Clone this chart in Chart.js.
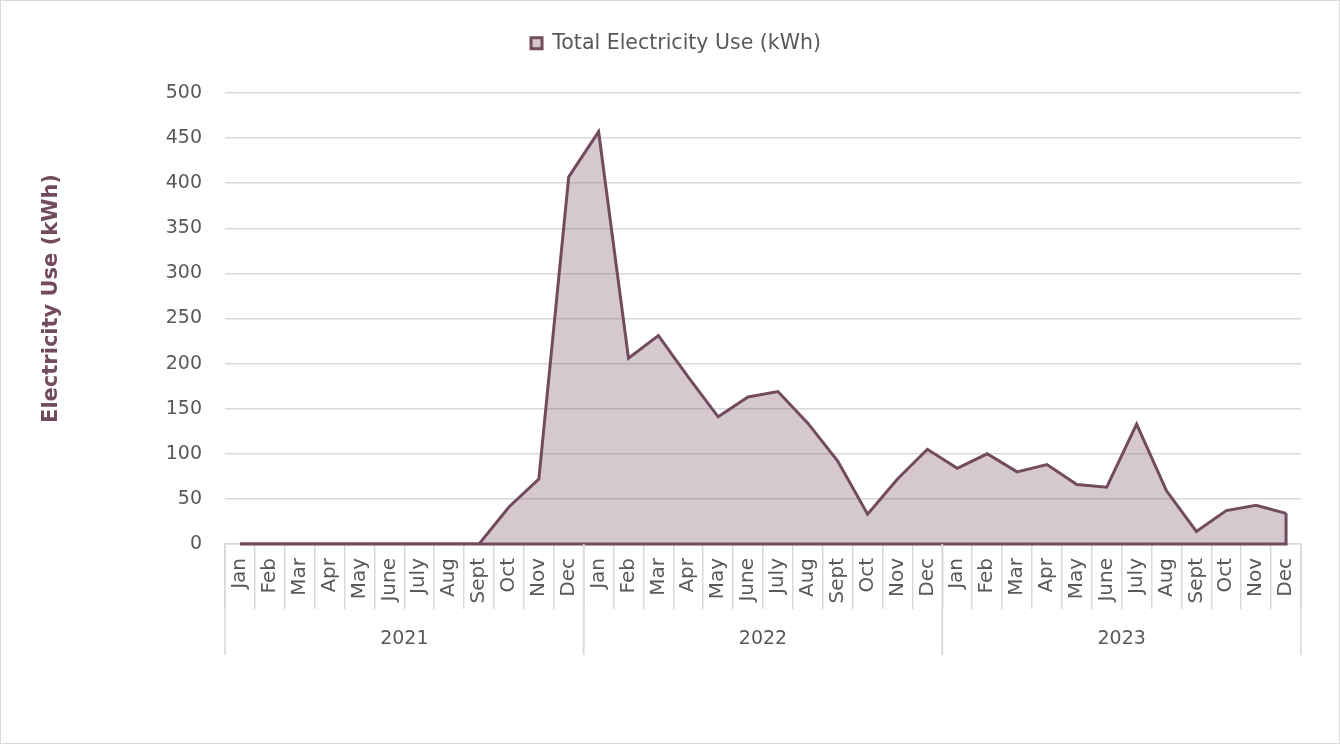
<!DOCTYPE html>
<html>
<head>
<meta charset="utf-8">
<script src="https://cdn.jsdelivr.net/npm/chart.js@4.4.1/dist/chart.umd.min.js"></script>
<style>
    html, body { margin: 0; padding: 0; background: #ffffff; }
    .frame { width: 1340px; height: 744px; box-sizing: border-box; border: 1px solid #d9d9d9; position: relative; }
</style>
</head>
<body>
<div class="frame"><canvas id="useChart"></canvas></div>
<script>
// data
const months = ['Jan', 'Feb', 'Mar', 'Apr', 'May', 'June', 'July', 'Aug', 'Sept', 'Oct', 'Nov', 'Dec'];
const years = ['2021', '2022', '2023'];
const use2021 = [0, 0, 0, 0, 0, 0, 0, 0, 0, 41, 72, 407];
const use2022 = [457, 206, 231, 185, 141, 163, 169, 134, 92, 33, 72, 105];
const use2023 = [84, 100, 80, 88, 66, 63, 133, 59, 14, 37, 43, 34];
const yMin = 0, yMax = 500, yStep = 50;

const LINE = '#734b5e';
const FILL = 'rgba(116,75,94,0.3)';
const GRID = '#d9d9d9';
const TEXT = '#595959';
const FONT = 'DejaVu Sans';

Chart.defaults.font.family = FONT;
Chart.defaults.color = TEXT;

const labels = years.flatMap(() => months);
const values = [...use2021, ...use2022, ...use2023];

// Excel draws the full outline of the area, including the drop at the end
const areaOutline = {
    id: 'areaOutline',
    afterDatasetsDraw(chart) {
        const pts = chart.getDatasetMeta(0).data;
        if (!pts.length) return;
        const base = chart.scales.y.getPixelForValue(0);
        const last = pts[pts.length - 1];
        const ctx = chart.ctx;
        ctx.save();
        ctx.strokeStyle = LINE;
        ctx.lineWidth = 3;
        ctx.beginPath();
        ctx.moveTo(last.x, last.y);
        ctx.lineTo(last.x, base);
        ctx.lineTo(pts[0].x, base);
        ctx.stroke();
        ctx.restore();
    }
};

// second level of the category axis: year groups
const yearGroups = {
    id: 'yearGroups',
    afterDraw(chart) {
        const x = chart.scales.x;
        const ctx = chart.ctx;
        const half = (x.getPixelForValue(1) - x.getPixelForValue(0)) / 2;
        ctx.save();
        ctx.strokeStyle = GRID;
        ctx.lineWidth = 1.5;
        ctx.fillStyle = TEXT;
        ctx.font = '19px "' + FONT + '"';
        ctx.textAlign = 'center';
        ctx.textBaseline = 'middle';
        years.forEach((yr, i) => {
            const a = x.getPixelForValue(i * months.length) - half;
            const b = x.getPixelForValue(i * months.length + months.length - 1) + half;
            [a, b].forEach(px => {
                ctx.beginPath();
                ctx.moveTo(px, x.top);
                ctx.lineTo(px, x.bottom);
                ctx.stroke();
            });
            ctx.fillText(yr, (a + b) / 2, x.bottom - 16);
        });
        ctx.restore();
    }
};

// y axis title, sitting a little above the plot's middle like the original
const yTitle = {
    id: 'yTitle',
    afterDraw(chart) {
        const area = chart.chartArea;
        const ctx = chart.ctx;
        ctx.save();
        ctx.translate(51, (area.top + area.bottom) / 2 - 20);
        ctx.rotate(-Math.PI / 2);
        ctx.fillStyle = LINE;
        ctx.font = 'bold 21px "' + FONT + '"';
        ctx.textAlign = 'center';
        ctx.textBaseline = 'middle';
        ctx.fillText('Electricity Use (kWh)', 0, 0);
        ctx.restore();
    }
};

// keep a fixed band for the legend above the plot
const legendBand = {
    id: 'legendBand',
    beforeLayout(chart) {
        const lg = chart.legend;
        if (lg && !lg._banded) {
            const fit = lg.fit;
            lg.fit = function () { fit.call(this); this.height = 70; };
            lg._banded = true;
        }
    }
};

new Chart(document.getElementById('useChart'), {
    type: 'line',
    data: {
        labels,
        datasets: [{
            label: 'Total Electricity Use (kWh)',
            data: values,
            borderColor: LINE,
            backgroundColor: FILL,
            borderWidth: 3,
            fill: 'origin',
            tension: 0,
            pointRadius: 0,
            pointHoverRadius: 0
        }]
    },
    options: {
        responsive: true,
        maintainAspectRatio: false,
        animation: false,
        layout: { padding: { top: 22, left: 50, right: 38, bottom: 88 } },
        plugins: {
            legend: {
                position: 'top',
                labels: {
                    boxWidth: 11,
                    boxHeight: 11,
                    padding: 10,
                    color: TEXT,
                    font: { size: 20.5 }
                }
            },
            tooltip: { enabled: false }
        },
        scales: {
            x: {
                offset: true,
                afterFit: s => { s.height = 111; },
                grid: {
                    offset: true,
                    drawOnChartArea: false,
                    drawTicks: true,
                    tickLength: 65,
                    color: GRID,
                    lineWidth: 1.5
                },
                border: { color: GRID, width: 1.5 },
                ticks: {
                    autoSkip: false,
                    maxRotation: 90,
                    minRotation: 90,
                    padding: -51,
                    color: TEXT,
                    font: { size: 20 }
                }
            },
            y: {
                min: yMin,
                max: yMax,
                afterFit: s => { s.width = 174; },
                grid: { color: GRID, lineWidth: 1.5, drawTicks: false },
                border: { display: false },
                ticks: {
                    stepSize: yStep,
                    padding: 23,
                    color: TEXT,
                    font: { size: 19 }
                }
            }
        }
    },
    plugins: [areaOutline, yearGroups, yTitle, legendBand]
});
</script>
</body>
</html>
